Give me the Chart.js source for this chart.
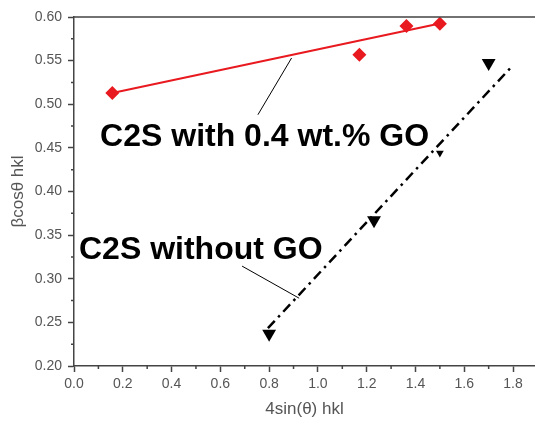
<!DOCTYPE html>
<html>
<head>
<meta charset="utf-8">
<script src="https://cdn.jsdelivr.net/npm/chart.js@4"></script>
<style>
  html, body { margin: 0; padding: 0; background: #fff; }
  #wrap { width: 535px; height: 421px; position: relative; }
</style>
</head>
<body>
<div id="wrap"><canvas id="chart"></canvas></div>
<script>
// data
const goX = [0.157, 1.17, 1.363, 1.50];
const goY = [0.513, 0.5567, 0.5897, 0.5924];
const plainX = [0.80, 1.23, 1.50, 1.70];
const plainY = [0.237, 0.367, 0.444, 0.5472];
const goFitX = [0.157, 1.50];
const goFitY = [0.513, 0.5925];
const plainFitX = [0.795, 1.794];
const plainFitY = [0.2433, 0.543];
const leaderGoX = [0.754, 0.892];
const leaderGoY = [0.488, 0.553];
const leaderPlainX = [0.689, 0.923];
const leaderPlainY = [0.3145, 0.2777];
const labels = ["C2S with 0.4 wt.% GO", "C2S without GO"];
const labelX = [0.107, 0.0205];
const labelY = [0.4525, 0.3223];
const xTitle = "4sin(\u03b8) hkl";
const yTitle = "\u03b2cos\u03b8 hkl";

const AXIS = "#444";
const TEXT = "#555";
const RED = "#e8191f";
const FONT = "'Liberation Sans', Arial, sans-serif";

const pts = (xs, ys) => xs.map((x, i) => ({ x: x, y: ys[i] }));

// minor ticks, top frame line and the two big labels
const extras = {
    id: "extras",
    afterDraw(chart) {
        const ctx = chart.ctx;
        const xs = chart.scales.x;
        const ys = chart.scales.y;
        const area = chart.chartArea;
        ctx.save();
        ctx.strokeStyle = AXIS;
        ctx.lineWidth = 1.5;
        ctx.beginPath();
        for (let v = 0.1; v < 1.89; v += 0.2) {
            const px = xs.getPixelForValue(v);
            ctx.moveTo(px, area.bottom);
            ctx.lineTo(px, area.bottom + 3);
        }
        for (let v = 0.225; v < 0.6; v += 0.05) {
            const py = ys.getPixelForValue(v);
            ctx.moveTo(area.left, py);
            ctx.lineTo(area.left - 3, py);
        }
        ctx.moveTo(area.left, area.top);
        ctx.lineTo(chart.width, area.top);
        ctx.stroke();

        ctx.fillStyle = "#000";
        ctx.font = "bold 32px " + FONT;
        ctx.textBaseline = "alphabetic";
        ctx.textAlign = "left";
        labels.forEach((t, i) => {
            ctx.fillText(t, xs.getPixelForValue(labelX[i]), ys.getPixelForValue(labelY[i]));
        });
        ctx.restore();
    }
};

new Chart(document.getElementById("chart"), {
    type: "scatter",
    data: {
        datasets: [
            {
                label: "with GO",
                data: pts(goX, goY),
                pointStyle: "rectRot",
                pointRadius: 7,
                backgroundColor: RED,
                borderColor: RED,
                borderWidth: 0,
                order: 0,
            },
            {
                label: "without GO",
                data: pts(plainX, plainY),
                pointStyle: "triangle",
                rotation: 180,
                pointRadius: (c) => (c.dataIndex === 2 ? 4.5 : 8),
                backgroundColor: "#000",
                borderColor: "#000",
                borderWidth: 0,
                order: 0,
            },
            {
                type: "line",
                data: pts(goFitX, goFitY),
                borderColor: RED,
                borderWidth: 2,
                pointRadius: 0,
                order: 1,
            },
            {
                type: "line",
                data: pts(plainFitX, plainFitY),
                borderColor: "#000",
                borderWidth: 2.5,
                borderDash: [10, 5, 2.5, 5],
                pointRadius: 0,
                order: 1,
            },
            {
                type: "line",
                data: pts(leaderGoX, leaderGoY),
                borderColor: "#000",
                borderWidth: 1,
                pointRadius: 0,
                order: 2,
            },
            {
                type: "line",
                data: pts(leaderPlainX, leaderPlainY),
                borderColor: "#000",
                borderWidth: 1,
                pointRadius: 0,
                order: 2,
            },
        ],
    },
    options: {
        responsive: true,
        maintainAspectRatio: false,
        animation: false,
        layout: { autoPadding: false, padding: { top: 17, right: 0, left: 0, bottom: 0 } },
        plugins: {
            legend: { display: false },
            tooltip: { enabled: false },
        },
        scales: {
            x: {
                type: "linear",
                min: 0,
                max: 1.89,
                afterFit: (s) => { s.height = 55; s.paddingRight = 0; s.paddingLeft = 0; },
                border: { color: AXIS, width: 1.5 },
                grid: { drawOnChartArea: false, drawTicks: true, tickLength: 6, tickColor: AXIS, tickWidth: 1.5 },
                ticks: {
                    stepSize: 0.2,
                    includeBounds: false,
                    padding: 4,
                    color: TEXT,
                    font: { family: FONT, size: 14 },
                    callback: (v) => v.toFixed(1),
                    maxRotation: 0,
                },
                title: {
                    display: true,
                    text: xTitle,
                    color: TEXT,
                    font: { family: FONT, size: 17 },
                    padding: { top: 0, bottom: 1 },
                },
            },
            y: {
                type: "linear",
                min: 0.2,
                max: 0.6,
                afterFit: (s) => { s.width = 74; s.paddingTop = 0; s.paddingBottom = 0; },
                border: { color: AXIS, width: 1.5 },
                grid: { drawOnChartArea: false, drawTicks: true, tickLength: 6, tickColor: AXIS, tickWidth: 1.5 },
                ticks: {
                    stepSize: 0.05,
                    padding: 6,
                    color: TEXT,
                    font: { family: FONT, size: 14 },
                    callback: (v) => v.toFixed(2),
                },
                title: {
                    display: true,
                    text: yTitle,
                    color: TEXT,
                    font: { family: FONT, size: 17 },
                    padding: { top: 8, bottom: 0 },
                },
            },
        },
    },
    plugins: [extras],
});
</script>
</body>
</html>
